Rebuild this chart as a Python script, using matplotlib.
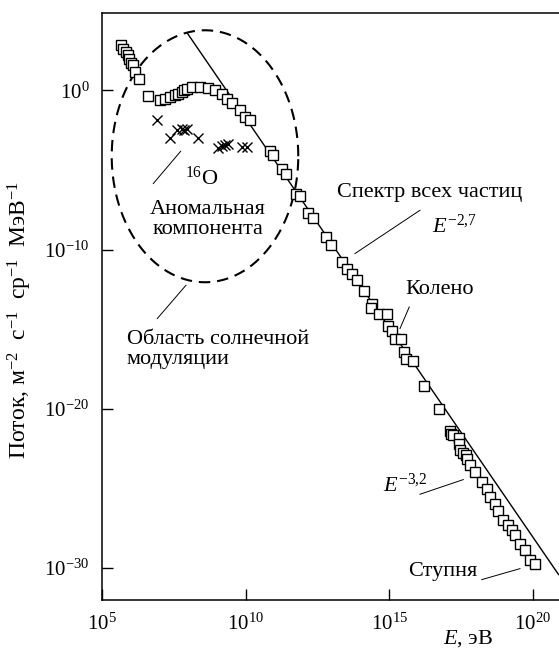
import numpy as np
import matplotlib
matplotlib.use('Agg')
import matplotlib.pyplot as plt

plt.rcParams['font.family'] = ['Liberation Serif', 'DejaVu Serif']
plt.rcParams['mathtext.fontset'] = 'custom'
plt.rcParams['mathtext.rm'] = 'Liberation Serif'
plt.rcParams['mathtext.it'] = 'Liberation Serif:italic'
plt.rcParams['mathtext.bf'] = 'Liberation Serif:bold'

# all-particle spectrum, log10(E / eV) and log10(flux)
sq_logE = [5.655, 5.735, 5.819, 5.889, 5.944, 6.003, 6.084, 6.143, 6.282, 6.606,
           7.014, 7.191, 7.366, 7.540, 7.652, 7.770, 7.850, 7.944, 8.118, 8.408,
           8.697, 8.930, 9.185, 9.338, 9.512, 9.801, 9.976, 10.15, 10.847, 10.962,
           11.254, 11.404, 11.742, 11.892, 12.181, 12.355, 12.787, 12.962, 13.366, 13.519,
           13.693, 13.868, 14.122, 14.390, 14.355, 14.655, 14.913, 14.969, 15.087, 15.202,
           15.401, 15.516, 15.585, 15.819, 16.223, 16.746, 17.118, 17.153, 17.233, 17.432,
           17.443, 17.467, 17.582, 17.676, 17.721, 17.815, 17.990, 18.223, 18.397, 18.512,
           18.686, 18.801, 18.976, 19.150, 19.268, 19.383, 19.557, 19.732, 19.906, 20.080]
sq_logF = [2.825, 2.618, 2.404, 2.197, 1.946, 1.739, 1.569, 1.149, 0.690, -0.358,
           -0.628, -0.521, -0.421, -0.314, -0.207, -0.107, 0.0, 0.107, 0.207, 0.207,
           0.169, 0.044, -0.251, -0.521, -0.797, -1.212, -1.676, -1.883, -3.829, -4.036,
           -4.915, -5.229, -6.485, -6.635, -7.702, -8.016, -9.209, -9.730, -10.778, -11.237,
           -11.550, -11.883, -12.618, -13.390, -13.641, -14.018, -14.062, -14.815, -15.110, -15.587,
           -15.587, -16.428, -16.843, -17.012, -18.562, -19.981, -21.36, -21.56, -21.61, -21.80,
           -22.18, -22.60, -22.77, -22.91, -23.16, -23.54, -23.96, -24.59, -25.00, -25.53,
           -25.99, -26.43, -26.99, -27.31, -27.58, -27.93, -28.46, -28.83, -29.50, -29.76]

# anomalous component 16O
ox_logE = [6.920, 7.362, 7.617, 7.770, 7.861, 7.965, 8.348, 9.045, 9.164, 9.279, 9.394, 9.861, 10.035]
ox_logF = [-1.839, -2.970, -2.467, -2.404, -2.511, -2.404, -2.969, -3.597, -3.515, -3.453, -3.390, -3.559, -3.559]

# E^-2.7 power law
line_logE = [7.96, 20.9]
line_logF = [3.6, -30.4]

# solar modulation region (ellipse in log-log space)
ell_center = (8.582, -4.143)
ell_axes = (3.25, 7.91)

xticks = [1e5, 1e10, 1e15, 1e20]
yticks = [1e0, 1e-10, 1e-20, 1e-30]

fig = plt.figure(figsize=(5.59, 6.5), dpi=100)
ax = fig.add_axes([0.1828, 0.0769, 0.8215, 0.9031])
ax.set_xscale('log')
ax.set_yscale('log')
ax.set_xlim(1e5, 1e21)
ax.set_ylim(1e-32, 10**4.85)

E = lambda v: 10 ** np.asarray(v, dtype=float)

ax.plot(E(line_logE), E(line_logF), color='black', lw=1.0, zorder=2)
ax.plot(E(sq_logE), E(sq_logF), ls='none', marker='s', ms=6.8, mfc='white',
        mec='black', mew=1.0, zorder=3)
ax.plot(E(ox_logE), E(ox_logF), ls='none', marker='x', ms=7.0, color='black',
        mew=1.0, zorder=3)

t = np.linspace(0, 2 * np.pi, 400)
ax.plot(E(ell_center[0] + ell_axes[0] * np.cos(t)), E(ell_center[1] + ell_axes[1] * np.sin(t)),
        color='black', lw=1.5, ls=(0, (5.5, 3.3)), zorder=1)

# leader lines
leaders = [((6.780, -5.857), (7.735, -3.829)),
           ((6.920, -14.33), (7.920, -12.24)),
           ((16.073, -7.533), (13.808, -10.25)),
           ((15.700, -13.60), (15.376, -14.96)),
           ((16.073, -25.36), (17.582, -24.44)),
           ((18.223, -30.72), (19.557, -30.03))]
for (x0, y0), (x1, y1) in leaders:
    ax.plot(E([x0, x1]), E([y0, y1]), color='black', lw=0.7)

fs = 16
ax.text(E(8.477), E(-5.524), '$^{16}$O', fontsize=fs, ha='center', va='center')
ax.text(E(8.686), E(-8.098), 'Аномальная\nкомпонента', fontsize=fs, ha='center',
        va='center', linespacing=1.1)
ax.text(E(5.864), E(-16.26), 'Область солнечной\nмодуляции', fontsize=fs, ha='left',
        va='center', linespacing=1.1)
ax.text(E(16.425), E(-6.403), 'Спектр всех частиц', fontsize=fs, ha='center', va='center')
ax.text(E(16.49), E(-8.537), '$E^{-2{,}7}$', fontsize=fs, ha='left', va='center')
ax.text(E(16.774), E(-12.49), 'Колено', fontsize=fs, ha='center', va='center')
ax.text(E(14.784), E(-24.80), '$E^{-3{,}2}$', fontsize=fs, ha='left', va='center')
ax.text(E(16.878), E(-30.19), 'Ступня', fontsize=fs, ha='center', va='center')

ax.set_xticks(xticks)
ax.set_yticks(yticks)
ax.minorticks_off()
ax.tick_params(axis='both', direction='in', length=8, width=1.0, labelsize=15)
ax.tick_params(axis='x', pad=10)
ax.tick_params(axis='y', pad=9)
for s in ax.spines.values():
    s.set_linewidth(1.1)
ax.spines['right'].set_visible(False)

fig.text(468 / 559, 0.002, '$E$, эВ', fontsize=fs, ha='center', va='bottom')
fig.text(20 / 559, 1 - 320 / 650,
         'Поток, м$^{-2}$  с$^{-1}$  ср$^{-1}$  МэВ$^{-1}$',
         fontsize=17, rotation=90, ha='center', va='center')

fig.savefig('out.png', dpi=100)
